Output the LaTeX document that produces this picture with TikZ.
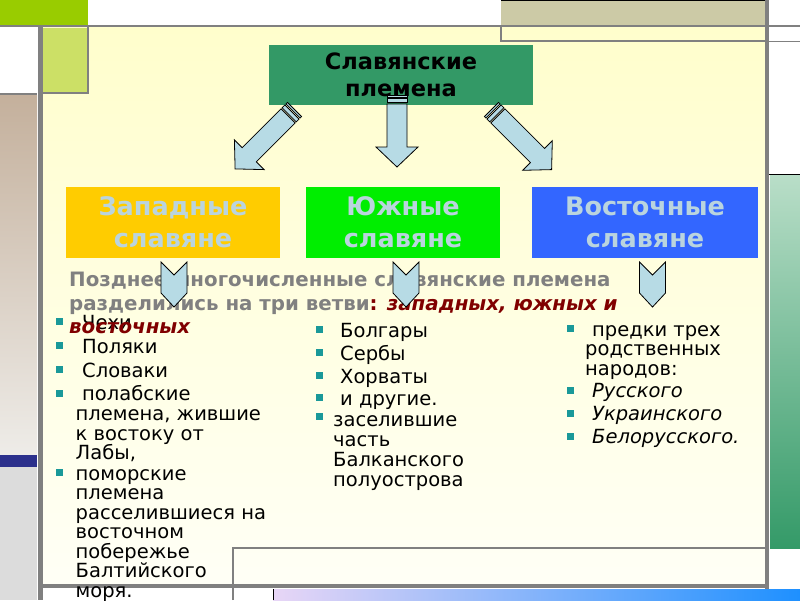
\documentclass[tikz,border=0pt]{standalone}
\usepackage{fontspec}
\setmainfont{DejaVu Sans}
\definecolor{framegray}{RGB}{128,128,128}
\definecolor{lime}{RGB}{153,204,0}
\definecolor{lightlime}{RGB}{204,224,102}
\definecolor{khaki}{RGB}{204,202,166}
\definecolor{tantop}{RGB}{196,176,156}
\definecolor{tanbot}{RGB}{238,236,232}
\definecolor{navybar}{RGB}{44,48,140}
\definecolor{lgray}{RGB}{220,220,220}
\definecolor{bgtop}{RGB}{255,254,204}
\definecolor{bgbot}{RGB}{255,255,246}
\definecolor{greentop}{RGB}{185,222,200}
\definecolor{greenbot}{RGB}{52,154,104}
\definecolor{barleft}{RGB}{232,214,246}
\definecolor{barright}{RGB}{30,144,255}
\definecolor{titlegreen}{RGB}{51,153,102}
\definecolor{westfill}{RGB}{255,204,0}
\definecolor{southfill}{RGB}{0,238,0}
\definecolor{eastfill}{RGB}{51,102,255}
\definecolor{boxtext}{RGB}{186,212,222}
\definecolor{arrowfill}{RGB}{183,219,229}
\definecolor{paragray}{RGB}{128,128,128}
\definecolor{darkred}{RGB}{128,0,0}
\definecolor{bulteal}{RGB}{26,153,153}
\newcommand{\slavarrow}[4]{%
  \begin{scope}[shift={(#1,#2)}, rotate=#3]
    \path[arrowstyle] (-10,0) rectangle (10,2);
    \path[arrowstyle] (-10,3.5) rectangle (10,7.5);
    \path[arrowstyle] (-10,9) -- (10,9) -- (10,#4-20) -- (21,#4-20) -- (0,#4)
      -- (-21,#4-20) -- (-10,#4-20) -- cycle;
  \end{scope}}
\newcommand{\chevdown}[2]{%
  \path[arrowstyle] (#1-13,#2) -- (#1,#2+13) -- (#1+13,#2) -- (#1+13,#2+31)
    -- (#1,#2+45) -- (#1-13,#2+31) -- cycle;}
\begin{document}
\begin{tikzpicture}[x=1pt,y=-1pt,
  arrowstyle/.style={fill=arrowfill, draw=black, line width=0.8pt, line join=miter},
  bul/.style={fill=bulteal, minimum size=7pt, inner sep=0pt},
  ltxt/.style={anchor=base west, inner sep=0pt, font=\fontsize{19.5}{19.5}\selectfont},
  itxt/.style={ltxt, font=\fontsize{19.5}{19.5}\selectfont\itshape},
  ptxt/.style={anchor=base west, inner sep=0pt, font=\fontsize{19.8}{19.8}\selectfont\bfseries, text=paragray},
  branch/.style={minimum height=71pt, inner sep=0pt, align=center, text=boxtext,
    font=\fontsize{25.5}{32}\selectfont\bfseries},
  gline/.style={draw=framegray}]
\useasboundingbox (0,0) rectangle (800,600);
% ---------- frame ----------
\fill[white] (0,0) rectangle (800,600);
\shade[top color=bgtop, bottom color=bgbot] (43,27) rectangle (765,586);
\fill[lime] (0,0) rectangle (88,25);
\fill[khaki] (501,0) rectangle (765,25);
\draw[black, line width=0.8pt] (501,0.4) -- (765,0.4);
\draw[gline, line width=2.5pt] (0,26) -- (800,26);
\draw[gline, line width=1.5pt] (501,26) -- (501,41) -- (765,41);
\draw[gline, line width=1pt] (769,41) -- (800,41);
\fill[lightlime] (43,28) rectangle (88,93);
\draw[gline, line width=1.5pt] (88,26) -- (88,93) -- (43,93);
\fill[white] (0,28) rectangle (37,93);
\draw[gline, line width=1.5pt] (0,94) -- (37,94);
\shade[top color=tantop, bottom color=tanbot] (0,95) rectangle (37,455);
\fill[navybar] (0,455) rectangle (37,467);
\fill[lgray] (0,467) rectangle (37,600);
\draw[gline, line width=5pt] (40,26) -- (40,600);
% right side
\draw[black, line width=1pt] (769,174) -- (800,174);
\shade[top color=greentop, bottom color=greenbot] (770,175) rectangle (800,548);
\draw[gline, line width=4pt] (767,0) -- (767,600);
% bottom
\draw[gline, line width=1.5pt] (233,600) -- (233,548) -- (765,548);
\shade[left color=barleft, right color=barright] (273,589) rectangle (800,600);
\draw[black, line width=0.6pt] (273,589) -- (273,600);
\draw[gline, line width=4pt] (42,586) -- (769,586);
% ---------- title ----------
\node[fill=titlegreen, minimum width=264pt, minimum height=60pt, inner sep=0pt,
  align=center, font=\fontsize{22.5}{27}\selectfont\bfseries, text=black]
  (title) at (401,75) {Славянские\\племена};
% ---------- big arrows ----------
\slavarrow{294.5}{109.5}{-45}{84}
\slavarrow{397}{95}{0}{72}
\slavarrow{491.5}{109.5}{45}{85}
% ---------- branches ----------
\node[branch, fill=westfill, minimum width=214pt] (west) at (173,222.5) {Западные\\славяне};
\node[branch, fill=southfill, minimum width=194pt] (south) at (403,222.5) {Южные\\славяне};
\node[branch, fill=eastfill, minimum width=226pt] (east) at (645,222.5) {Восточные\\славяне};
% ---------- lists ----------
\node[bul] (bw1) at (59,321) {};
\node[ltxt] (w1) at (82,329) {Чехи};
\node[bul] (bw2) at (59,345) {};
\node[ltxt] (w2) at (82,353) {Поляки};
\node[bul] (bw3) at (59,369) {};
\node[ltxt] (w3) at (82,377) {Словаки};
\node[bul] (bw4) at (59,393) {};
\node[ltxt] (w4a) at (82,400) {полабские};
\node[ltxt] (w4b) at (75.5,420) {племена, жившие};
\node[ltxt] (w4c) at (75.5,440) {к востоку от};
\node[ltxt] (w4d) at (75.5,459.5) {Лабы,};
\node[bul] (bw5) at (59,472) {};
\node[ltxt] (w5a) at (75.5,480) {поморские};
\node[ltxt] (w5b) at (75.5,499.5) {племена};
\node[ltxt] (w5c) at (75.5,519) {расселившиеся на};
\node[ltxt] (w5d) at (75.5,538.5) {восточном};
\node[ltxt] (w5e) at (75.5,558) {побережье};
\node[ltxt] (w5f) at (75.5,577.5) {Балтийского};
\node[ltxt] (w5g) at (75.5,597) {моря.};
%
\node[bul] (bs1) at (319,329) {};
\node[ltxt] (s1) at (340,337) {Болгары};
\node[bul] (bs2) at (319,352) {};
\node[ltxt] (s2) at (340,360) {Сербы};
\node[bul] (bs3) at (319,375) {};
\node[ltxt] (s3) at (340,383) {Хорваты};
\node[bul] (bs4) at (319,397) {};
\node[ltxt] (s4) at (340,405) {и другие.};
\node[bul] (bs5) at (319,416) {};
\node[ltxt] (s5a) at (333,426) {заселившие};
\node[ltxt] (s5b) at (333,446) {часть};
\node[ltxt] (s5c) at (333,466) {Балканского};
\node[ltxt] (s5d) at (333,486) {полуострова};
%
\node[bul] (be1) at (570,328) {};
\node[ltxt] (e1a) at (592,336) {предки трех};
\node[ltxt] (e1b) at (585,355.5) {родственных};
\node[ltxt] (e1c) at (585,375) {народов:};
\node[bul] (be2) at (570,390) {};
\node[itxt] (e2) at (592,397) {Русского};
\node[bul] (be3) at (570,413) {};
\node[itxt] (e3) at (592,420) {Украинского};
\node[bul] (be4) at (570,436) {};
\node[itxt] (e4) at (592,443) {Белорусского.};
% ---------- paragraph ----------
\node[ptxt] (p1) at (69,286) {Позднее многочисленные славянские племена};
\node[ptxt] (p2) at (69,310) {разделились на три ветви\textcolor{darkred}{: \itshape западных, южных и}};
\node[ptxt, text=darkred] (p3) at (69,333) {\itshape восточных};
% ---------- chevrons ----------
\chevdown{174}{262}
\chevdown{406}{262}
\chevdown{652.5}{262}
\end{tikzpicture}
\end{document}
